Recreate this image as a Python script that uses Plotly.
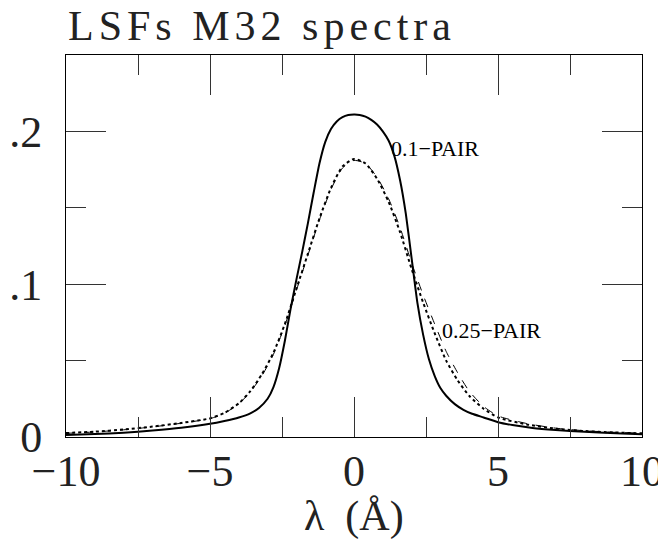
import plotly.graph_objects as go

# 0.1-PAIR LSF (solid)
x_pair01 = [-10, -9, -8, -7, -6, -5, -4.5, -4.0, -3.6, -3.3, -3.0, -2.8, -2.6, -2.4, -2.2,
            -2.0, -1.8, -1.6, -1.4, -1.2, -1.0, -0.8, -0.6, -0.4, -0.2, 0.0,
            0.2, 0.4, 0.6, 0.8, 1.0, 1.2, 1.4, 1.6, 1.8, 2.0, 2.2, 2.4, 2.6, 2.8, 3.0,
            3.2, 3.5, 3.8, 4.1, 4.5, 5.0, 5.5, 6.2, 7.0, 7.5, 8.5, 9.3, 10]
y_pair01 = [0.0013, 0.0019, 0.0028, 0.0042, 0.0060, 0.0086, 0.0105, 0.0128, 0.0155, 0.0190,
            0.0250, 0.0325, 0.0450, 0.0630, 0.0840, 0.1030, 0.1210, 0.1400, 0.1600, 0.1790,
            0.1930, 0.2015, 0.2065, 0.2093, 0.2107, 0.2110,
            0.2108, 0.2097, 0.2075, 0.2045, 0.2000, 0.1940, 0.1840, 0.1680, 0.1460, 0.1170,
            0.0880, 0.0670, 0.0510, 0.0400, 0.0320,
            0.0270, 0.0215, 0.0178, 0.0152, 0.0128, 0.0097, 0.0078, 0.0059, 0.0046, 0.0040,
            0.0030, 0.0023, 0.0018]

# 0.25-PAIR LSF (dotted)
x_pair025 = [-10, -9, -8, -7, -6, -5, -4.5, -4.0, -3.6, -3.2, -2.8, -2.4, -2.0, -1.6, -1.2,
             -0.8, -0.4, 0.0, 0.4, 0.8, 1.2, 1.6, 2.0, 2.4, 2.8, 3.2, 3.6, 4.0, 4.5, 5.0,
             6.0, 7.0, 8.0, 9.0, 10]
y_pair025 = [0.0026, 0.0035, 0.0049, 0.0068, 0.0092, 0.0122, 0.0158, 0.0220, 0.0300, 0.0410,
             0.0550, 0.0740, 0.0970, 0.1200, 0.1430, 0.1630, 0.1770, 0.1820, 0.1790, 0.1690,
             0.1540, 0.1340, 0.1100, 0.0880, 0.0680, 0.0500, 0.0370, 0.0270, 0.0185, 0.0128,
             0.0082, 0.0055, 0.0039, 0.0030, 0.0024]

# 0.25-PAIR LSF, second realisation (dashed)
x_pair025b = [-10, -9, -8, -7, -6, -5, -4.5, -4.0, -3.6, -3.2, -2.8, -2.4, -2.0, -1.6, -1.2,
              -0.8, -0.4, 0.0, 0.4, 0.8, 1.2, 1.6, 2.0, 2.4, 2.8, 3.2, 3.6, 4.0, 4.5, 5.0,
              6.0, 7.0, 8.0, 9.0, 10]
y_pair025b = [0.0024, 0.0033, 0.0047, 0.0066, 0.0090, 0.0120, 0.0155, 0.0217, 0.0295, 0.0400,
              0.0540, 0.0730, 0.0960, 0.1190, 0.1420, 0.1620, 0.1760, 0.1810, 0.1790, 0.1700,
              0.1560, 0.1370, 0.1140, 0.0930, 0.0740, 0.0560, 0.0420, 0.0300, 0.0200, 0.0138,
              0.0088, 0.0058, 0.0041, 0.0031, 0.0025]

y_ticks = [0, 0.1, 0.2]
y_ticktext = ["0", ".1", ".2"]

SERIF = "Liberation Serif"
TXT = "#222"
TICK = "#333"

fig = go.Figure()
fig.add_trace(go.Scatter(x=x_pair025b, y=y_pair025b, mode="lines",
                         line=dict(color="black", width=1, dash="dash", shape="spline", smoothing=0.6),
                         showlegend=False))
fig.add_trace(go.Scatter(x=x_pair025, y=y_pair025, mode="lines",
                         line=dict(color="black", width=2, dash="dot", shape="spline", smoothing=0.6),
                         showlegend=False))
fig.add_trace(go.Scatter(x=x_pair01, y=y_pair01, mode="lines",
                         line=dict(color="black", width=2, shape="spline", smoothing=0.5),
                         showlegend=False))

fig.add_annotation(x=1.2, y=0.1886, text="0.1\u2212PAIR", showarrow=False,
                   xanchor="left", yanchor="middle",
                   font=dict(family=SERIF, size=22, color="black"))
fig.add_annotation(x=3.0, y=0.070, text="0.25\u2212PAIR", showarrow=False,
                   xanchor="left", yanchor="middle",
                   font=dict(family=SERIF, size=22, color="black"))
fig.add_annotation(x=0, y=1.0, xref="paper", yref="paper", yshift=29,
                   text='<span style="letter-spacing:5px">LSFs M32 spectra</span>',
                   showarrow=False, xanchor="left", yanchor="middle",
                   font=dict(family=SERIF, size=42, color=TXT))
fig.add_annotation(x=0.5, y=0, xref="paper", yref="paper", yshift=-79,
                   text="\u03bb  (\u00c5)", showarrow=False,
                   xanchor="center", yanchor="middle",
                   font=dict(family=SERIF, size=42, color=TXT))

# page body has an 8px margin: size the figure so the plot box lands where the reference has it
fig.update_layout(
    width=658, height=534,
    margin=dict(l=58, r=24, t=47, b=105),
    plot_bgcolor="white", paper_bgcolor="white",
    font=dict(family=SERIF, color="black"),
)
fig.update_xaxes(
    range=[-10, 10], showgrid=False, zeroline=False, automargin=False,
    showline=True, linecolor="black", linewidth=1, mirror="allticks",
    tickmode="linear", tick0=0, dtick=5,
    ticks="inside", ticklen=40, tickcolor=TICK, tickwidth=1,
    tickfont=dict(family=SERIF, size=44, color=TXT),
    ticklabelstandoff=-5,
    minor=dict(ticks="inside", ticklen=20, dtick=2.5, tick0=0, tickcolor=TICK, tickwidth=1),
)
fig.update_yaxes(
    range=[0, 0.25], showgrid=False, zeroline=False, automargin=False,
    showline=True, linecolor="black", linewidth=1, mirror="allticks",
    tickmode="array", tickvals=y_ticks, ticktext=y_ticktext,
    ticks="inside", ticklen=40, tickcolor=TICK, tickwidth=1,
    tickfont=dict(family=SERIF, size=44, color=TXT),
    ticklabelstandoff=14,
    minor=dict(ticks="inside", ticklen=20, dtick=0.05, tick0=0, tickcolor=TICK, tickwidth=1),
)

fig.write_html("out.html")
